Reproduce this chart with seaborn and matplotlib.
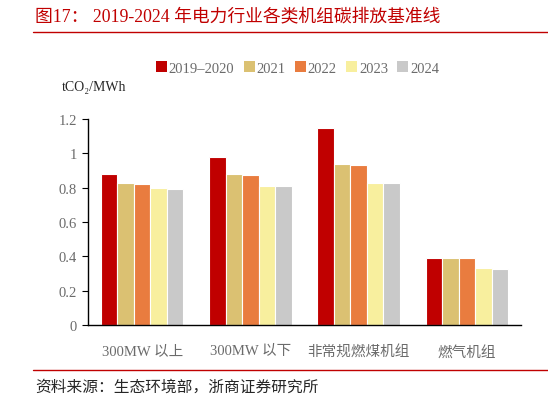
import matplotlib
matplotlib.use("Agg")
import matplotlib.pyplot as plt
import seaborn as sns
import pandas as pd
from matplotlib.patches import Patch
from matplotlib.lines import Line2D

categories = ["300MW 以上", "300MW 以下", "非常规燃煤机组", "燃气机组"]
years = ["2019–2020", "2021", "2022", "2023", "2024"]
v_2019_2020 = [0.877, 0.979, 1.146, 0.392]
v_2021 = [0.825, 0.877, 0.935, 0.390]
v_2022 = [0.820, 0.873, 0.930, 0.390]
v_2023 = [0.798, 0.811, 0.829, 0.331]
v_2024 = [0.792, 0.808, 0.825, 0.329]
yticks = [0, 0.2, 0.4, 0.6, 0.8, 1.0, 1.2]
ytick_labels = ["0", "0.2", "0.4", "0.6", "0.8", "1", "1.2"]
colors = ["#C00000", "#DBC172", "#E97C3F", "#F8EF9E", "#C9C9C9"]

series = [v_2019_2020, v_2021, v_2022, v_2023, v_2024]
rows = []
for y, vals in zip(years, series):
    for c, v in zip(categories, vals):
        rows.append({"cat": c, "year": y, "val": v})
df = pd.DataFrame(rows)

sns.set_theme(style="white")
FAM = ["Liberation Serif", "Noto Sans CJK SC", "DejaVu Serif"]
plt.rcParams["font.family"] = FAM

fig = plt.figure(figsize=(5.48, 4.02), dpi=100)
ax = fig.add_axes([88 / 548, 1 - 326 / 402, (521 - 88) / 548, (326 - 120) / 402])

sns.barplot(data=df, x="cat", y="val", hue="year", hue_order=years, order=categories,
            palette=colors, saturation=1, width=0.76, edgecolor="white", linewidth=0.8,
            ax=ax, legend=False)

ax.set_ylim(0, 1.2)
ax.set_xlim(-0.5, len(categories) - 0.5)
ax.set_yticks(yticks)
ax.set_yticklabels(ytick_labels)
ax.set_xlabel("")
ax.set_ylabel("")
for s in ["top", "right"]:
    ax.spines[s].set_visible(False)
for s in ["left", "bottom"]:
    ax.spines[s].set_color("black")
    ax.spines[s].set_linewidth(1.0)
ax.tick_params(axis="y", which="both", left=True, length=4, width=0.8, color="black",
               labelsize=10.5, labelcolor="#6b6b6b", pad=4)
ax.tick_params(axis="x", bottom=False, labelsize=10.5, labelcolor="#6b6b6b", pad=8)
for lab in ax.get_xticklabels() + ax.get_yticklabels():
    lab.set_family(FAM)

# legend
handles = [Patch(facecolor=c, edgecolor="none") for c in colors]
fig.legend(handles, years, loc="center", bbox_to_anchor=(0.543, 0.828), ncol=5,
           frameon=False, handlelength=0.75, handleheight=0.75, handletextpad=0.12,
           columnspacing=0.65, prop={"family": FAM, "size": 10.5}, labelcolor="#6b6b6b")

# unit label
fig.text(62 / 548, 1 - 88 / 402, "tCO₂/MWh", ha="left", va="center", fontsize=10,
         color="#262626", family=FAM)

# title
fig.text(35 / 548, 1 - 17 / 402, "图17： 2019-2024 年电力行业各类机组碳排放基准线",
         ha="left", va="center", fontsize=12.8, color="#C00000", family=FAM)
fig.add_artist(Line2D([33 / 548, 1.0], [1 - 33 / 402, 1 - 33 / 402], color="#C00000",
                      linewidth=1.0, transform=fig.transFigure))

# source
fig.add_artist(Line2D([33 / 548, 1.0], [1 - 371 / 402, 1 - 371 / 402], color="#C00000",
                      linewidth=1.0, transform=fig.transFigure))
fig.text(35 / 548, 1 - 388 / 402, "资料来源：生态环境部，浙商证券研究所",
         ha="left", va="center", fontsize=11.3, color="#262626", family=FAM)

fig.savefig("out.png", dpi=100)
